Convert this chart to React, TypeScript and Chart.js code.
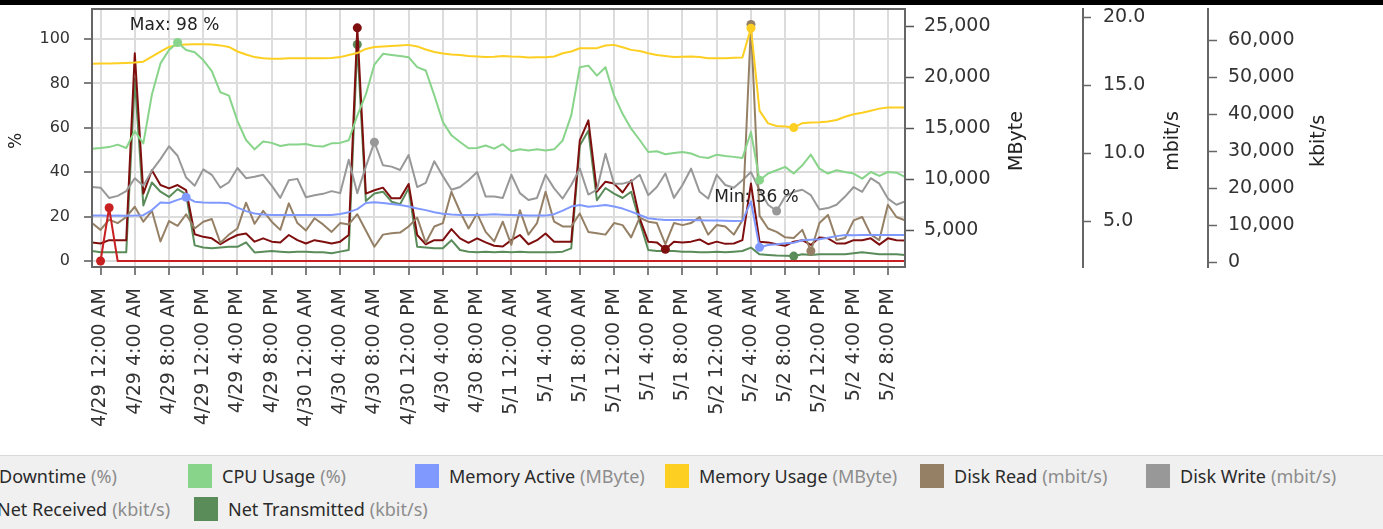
import { useEffect, useRef } from "react";
import { Chart, registerables } from "chart.js";

Chart.register(...registerables);

// x axis: hours relative to 4/29 12:00 AM, one value per hour
const firstHour = -1;
const tickLabels = [
  "4/29 12:00 AM", "4/29 4:00 AM", "4/29 8:00 AM", "4/29 12:00 PM", "4/29 4:00 PM", "4/29 8:00 PM",
  "4/30 12:00 AM", "4/30 4:00 AM", "4/30 8:00 AM", "4/30 12:00 PM", "4/30 4:00 PM", "4/30 8:00 PM",
  "5/1 12:00 AM", "5/1 4:00 AM", "5/1 8:00 AM", "5/1 12:00 PM", "5/1 4:00 PM", "5/1 8:00 PM",
  "5/2 12:00 AM", "5/2 4:00 AM", "5/2 8:00 AM", "5/2 12:00 PM", "5/2 4:00 PM", "5/2 8:00 PM",
];
const tickHours = [0, 4, 8, 12, 16, 20, 24, 28, 32, 36, 40, 44, 48, 52, 56, 60, 64, 68, 72, 76, 80, 84, 88, 92];

const percentTicks = [0, 20, 40, 60, 80, 100];
const mbyteTicks = [5000, 10000, 15000, 20000, 25000];
const mbitTicks = [5, 10, 15, 20];
const kbitTicks = [0, 10000, 20000, 30000, 40000, 50000, 60000];

// Series values (h = -1 .. 94)
const downtime = [null, 0, 24, 0, 0, 0, 0, 0, 0, 0, 0, 0, 0, 0, 0, 0, 0, 0, 0, 0, 0, 0, 0, 0, 0, 0, 0, 0, 0, 0, 0, 0,
  0, 0, 0, 0, 0, 0, 0, 0, 0, 0, 0, 0, 0, 0, 0, 0, 0, 0, 0, 0, 0, 0, 0, 0, 0, 0, 0, 0, 0, 0, 0, 0,
  0, 0, 0, 0, 0, 0, 0, 0, 0, 0, 0, 0, 0, 0, 0, 0, 0, 0, 0, 0, 0, 0, 0, 0, 0, 0, 0, 0, 0, 0, 0, 0];

const cpuUsage = [50.6, 50.9, 51.3, 52.4, 50.9, 58.5, 53, 75, 89, 95, 98.4, 95, 94, 90.5, 85.5, 76,
  74.5, 63, 54.5, 50.3, 53.8, 53.2, 51.8, 52.5, 52.5, 52.7, 51.8, 51.6, 53, 53.2, 54.4, 65.5,
  75, 88.5, 93.3, 92.8, 92.3, 91.8, 87.3, 85.8, 74.6, 62.6, 56.6, 53.6, 50.8, 50.9, 52, 50.6,
  52.6, 49.4, 50.3, 49.8, 50.3, 49.8, 50.3, 54.3, 65.6, 87.3, 88, 83.5, 87.3, 74.6, 66.3, 59.6,
  54.5, 49.1, 49.4, 48.1, 48.6, 49.1, 48.4, 46.9, 46.4, 47.9, 47.3, 46.9, 46.4, 58.1, 36.4, 39.4,
  40.9, 42.4, 39.4, 43.1, 47.9, 41.6, 39.4, 40.9, 40.1, 39.4, 37.1, 40.1, 38.3, 40.1, 39.8, 37.9];

const memoryActive = [6410, 6420, 6400, 6410, 6400, 6410, 6450, 6950, 7700, 7650, 7950, 8210, 7780, 7700, 7680, 7670,
  7620, 7200, 6850, 6620, 6520, 6480, 6470, 6470, 6470, 6460, 6470, 6470, 6480, 6560, 6750, 7050,
  7650, 7720, 7650, 7550, 7460, 7300, 7100, 6950, 6750, 6600, 6520, 6470, 6470, 6470, 6500, 6540,
  6500, 6470, 6450, 6420, 6410, 6410, 6550, 6900, 7300, 7460, 7290, 7350, 7460, 7300, 7100, 6800,
  6470, 6150, 6050, 5980, 5980, 5980, 5970, 5950, 5930, 5920, 5900, 5890, 5900, 7800, 3300, 3530,
  3600, 3700, 3750, 4000, 4050, 4100, 4250, 4400, 4500, 4480, 4500, 4520, 4500, 4520, 4500, 4500];

const memoryUsage = [21300, 21320, 21330, 21350, 21380, 21420, 21500, 21990, 22480, 22950, 23130, 23190, 23200, 23200, 23190, 23100,
  22950, 22500, 22200, 21950, 21850, 21780, 21800, 21840, 21840, 21840, 21830, 21840, 21870, 21950, 22150, 22350,
  22750, 22950, 23000, 23050, 23100, 23150, 23000, 22700, 22450, 22300, 22200, 22150, 22050, 22000, 21950, 21980,
  22050, 22000, 21980, 21920, 21930, 21940, 22010, 22330, 22500, 22820, 22820, 22830, 23090, 23150, 22920, 22660,
  22550, 22330, 22150, 22050, 21950, 21980, 22000, 21950, 21850, 21840, 21840, 21880, 21910, 24790, 16700, 15450,
  15200, 15150, 15040, 15470, 15550, 15570, 15630, 15790, 16100, 16350, 16500, 16700, 16900, 17000, 17000, 17020];

const diskRead = [4.85, 4.35, 5.1, 4.85, 5.3, 6.05, 4.95, 5.75, 3.5, 5.0, 4.65, 5.5, 4.45, 4.95, 5.15, 3.4,
  4.0, 4.45, 6.35, 4.8, 5.75, 4.95, 4.35, 6.3, 4.85, 4.3, 5.2, 4.75, 4.2, 4.85, 4.75, 5.5,
  4.3, 3.11, 4.0, 4.1, 4.15, 4.6, 5.25, 3.4, 4.6, 4.85, 7.15, 5.7, 4.45, 5.55, 4.2, 3.5,
  4.95, 3.25, 5.8, 4.0, 4.85, 7.15, 4.95, 4.6, 4.6, 5.55, 4.2, 4.1, 4.0, 4.85, 4.7, 3.8,
  5.25, 4.95, 4.85, 3.3, 4.85, 4.7, 4.85, 5.3, 4.0, 4.7, 4.6, 4.0, 5.05, 19.45, 5.4, 4.45,
  4.2, 3.8, 3.75, 4.35, 2.8, 4.85, 5.45, 3.6, 3.75, 5.05, 5.3, 4.0, 3.6, 6.2, 5.3, 5.05];

const diskWrite = [7.5, 7.45, 6.7, 6.85, 7.2, 8.15, 7.6, 8.7, 9.55, 10.5, 9.8, 8.2, 7.6, 8.8, 8.4, 7.45,
  7.85, 8.9, 8.15, 8.25, 8.4, 7.6, 6.7, 8.0, 8.1, 6.75, 6.9, 7.0, 7.2, 7.05, 9.5, 7.05,
  9.0, 10.8, 9.1, 9.0, 8.75, 9.85, 7.5, 7.8, 9.4, 8.3, 7.3, 7.5, 8.0, 8.6, 6.8, 6.8,
  6.7, 8.4, 7.05, 6.55, 6.7, 8.4, 7.4, 6.65, 7.65, 8.85, 6.95, 7.3, 9.95, 7.75, 7.75, 7.9,
  8.4, 6.9, 7.5, 8.5, 6.7, 7.65, 8.85, 7.15, 6.65, 8.4, 7.65, 7.45, 8.0, 8.6, 7.3, 6.2,
  5.74, 6.8, 7.15, 7.3, 6.9, 5.85, 5.95, 6.2, 6.8, 7.5, 7.15, 8.15, 7.75, 6.65, 6.2, 6.45];

const netReceived = [5300, 5000, 5900, 5900, 5900, 56400, 18500, 24800, 20800, 19900, 20800, 19400, 7500, 6800, 6400, 4800,
  6200, 7300, 7700, 5500, 6400, 5500, 5300, 7300, 5900, 5000, 5900, 5500, 5000, 5500, 7300, 63300,
  18500, 19400, 20100, 17200, 17200, 21100, 7300, 4800, 5900, 5900, 8900, 6400, 5200, 6400, 5300, 4400,
  4200, 5900, 7300, 4800, 5900, 7700, 5500, 5500, 5500, 32900, 38300, 19000, 21700, 21200, 18800, 22100,
  11800, 5500, 5300, 3450, 5500, 5300, 5500, 6100, 4800, 5500, 4900, 5000, 5900, 21200, 5500, 5300,
  4800, 4400, 5500, 5900, 4600, 6600, 6400, 5000, 5000, 5900, 5900, 6400, 4700, 6400, 5900, 5800];

const netTransmitted = [2970, 2610, 2610, 2610, 2610, 49500, 15300, 21500, 19000, 17600, 19700, 18300, 4500, 3900, 3700, 3900,
  4100, 4100, 5300, 2600, 2800, 2970, 2800, 2610, 2800, 2800, 2610, 2610, 2340, 2800, 3240, 58800,
  16500, 18500, 19000, 16300, 15600, 19900, 4100, 3900, 3700, 3700, 5900, 3240, 2800, 2610, 2800, 2610,
  2800, 2610, 2800, 2610, 2610, 2610, 2610, 2800, 3700, 31500, 35500, 16700, 20000, 18500, 17300, 19000,
  10900, 3240, 2970, 2970, 2970, 2800, 2800, 2610, 2610, 2800, 2610, 2800, 2970, 3900, 2070, 1900,
  1750, 1720, 1600, 2070, 1900, 2070, 2070, 2070, 2070, 2340, 2610, 2340, 2070, 2070, 2070, 1900];

const seriesNames = ["Downtime", "CPU Usage", "Memory Active", "Memory Usage", "Disk Read", "Disk Write", "Net Received", "Net Transmitted"];
const seriesUnits = ["%", "%", "MByte", "MByte", "mbit/s", "mbit/s", "kbit/s", "kbit/s"];
const seriesValues: (number | null)[][] = [downtime, cpuUsage, memoryActive, memoryUsage, diskRead, diskWrite, netReceived, netTransmitted];

// styles
const seriesColors = ["#c82020", "#88d48a", "#8099ff", "#fdcf22", "#958066", "#989898", "#7f0f0f", "#5a8c5a"];
const seriesAxes = ["y", "y", "y1", "y1", "y2", "y2", "y3", "y3"];
const legendSlots = [
  { row: 0, left: -35 }, { row: 0, left: 188 }, { row: 0, left: 415 }, { row: 0, left: 665 },
  { row: 0, left: 920 }, { row: 0, left: 1146 }, { row: 1, left: -37 }, { row: 1, left: 194 },
];
const FONT = "DejaVu Sans";

function extremeIndex(values: (number | null)[], pickMax: boolean): number {
  let best = -1;
  values.forEach((v, i) => {
    if (v == null) return;
    const b = best < 0 ? null : (values[best] as number);
    if (b == null || (pickMax ? v > b : v < b)) best = i;
  });
  return best;
}

const setTicks = (vals: number[]) => (s: any) => {
  s.ticks = vals.map((v) => ({ value: v }));
};
const fitWidth = (w: number) => (s: any) => {
  s.width = w;
  s.paddingTop = 0;
  s.paddingBottom = 0;
};

const decorPlugin = {
  id: "decor",
  afterDraw(chart: any) {
    const { ctx, chartArea } = chart;
    const { left, top, right, bottom } = chartArea;
    ctx.save();
    // plot frame
    ctx.strokeStyle = "#666";
    ctx.lineWidth = 2;
    ctx.strokeRect(left, top, right - left, bottom - top);

    // min / max labels for CPU usage
    const cpuIdx = 1;
    const meta = chart.getDatasetMeta(cpuIdx);
    const vals = seriesValues[cpuIdx] as number[];
    const iMax = extremeIndex(vals, true);
    const iMin = extremeIndex(vals, false);
    ctx.fillStyle = "#222";
    ctx.font = `17px "${FONT}"`;
    ctx.textAlign = "center";
    ctx.textBaseline = "middle";
    const pMax = meta.data[iMax];
    const pMin = meta.data[iMin];
    if (pMax) ctx.fillText(`Max: ${Math.round(vals[iMax])} %`, pMax.x - 3, pMax.y - 17);
    if (pMin) ctx.fillText(`Min: ${Math.round(vals[iMin])} %`, pMin.x - 3, pMin.y + 17);

    // axis titles, reading bottom to top
    const midY = (top + bottom) / 2 + 3;
    const titles: [string, number, number][] = [
      ["%", chart.scales.y.left + 17, 17],
      ["MByte", chart.scales.y1.left + 112, 19],
      ["mbit/s", chart.scales.y2.left + 90, 19],
      ["kbit/s", chart.scales.y3.left + 111, 19],
    ];
    ctx.fillStyle = "#222";
    for (const [text, x, size] of titles) {
      ctx.save();
      ctx.translate(x, midY);
      ctx.rotate(-Math.PI / 2);
      ctx.font = `${size}px "${FONT}"`;
      ctx.textAlign = "center";
      ctx.textBaseline = "middle";
      ctx.fillText(text, 0, 0);
      ctx.restore();
    }
    ctx.restore();
  },
};

export default function App() {
  const canvasRef = useRef<HTMLCanvasElement | null>(null);

  useEffect(() => {
    document.body.style.margin = "0";
    const canvas = canvasRef.current;
    if (!canvas) return;

    const datasets = seriesValues.map((vals, k) => {
      const iMax = extremeIndex(vals, true);
      const iMin = extremeIndex(vals, false);
      return {
        label: seriesNames[k],
        data: vals.map((v, i) => ({ x: firstHour + i, y: v })),
        yAxisID: seriesAxes[k],
        borderColor: seriesColors[k],
        backgroundColor: seriesColors[k],
        borderWidth: 2,
        tension: 0,
        borderJoinStyle: "round" as const,
        pointRadius: (c: any) => (c.dataIndex === iMax || c.dataIndex === iMin ? 4.5 : 0),
        pointBackgroundColor: seriesColors[k],
        pointBorderWidth: 0,
        fill: false,
      };
    });

    const rightTickFont = { family: FONT, size: 19 };
    const chart = new Chart(canvas, {
      type: "line",
      data: { datasets },
      plugins: [decorPlugin],
      options: {
        animation: false,
        responsive: false,
        devicePixelRatio: 1,
        events: [],
        layout: { padding: { top: 9, left: 0, right: 0, bottom: 0 } },
        plugins: { legend: { display: false }, tooltip: { enabled: false } },
        scales: {
          x: {
            type: "linear",
            min: firstHour,
            max: firstHour + cpuUsage.length - 1,
            afterBuildTicks: setTicks(tickHours),
            afterFit: (s: any) => {
              s.height = 188;
              s.paddingLeft = 0;
              s.paddingRight = 0;
            },
            ticks: {
              autoSkip: false,
              minRotation: 90,
              maxRotation: 90,
              padding: 13,
              color: "#333",
              font: { family: FONT, size: 19 },
              callback: (_v: any, i: number) => tickLabels[i],
            },
            grid: { color: "#dcdcdc", lineWidth: 2, tickColor: "#555", tickLength: 8, tickWidth: 1.5 },
            border: { display: false },
          },
          y: {
            type: "linear",
            position: "left",
            min: -2.7,
            max: 113.5,
            afterBuildTicks: setTicks(percentTicks),
            afterFit: fitWidth(92),
            ticks: { padding: 14, color: "#333", font: { family: FONT, size: 16 } },
            grid: { color: "#dcdcdc", lineWidth: 2, tickColor: "#555", tickLength: 8, tickWidth: 1.5 },
            border: { display: false },
          },
          y1: {
            type: "linear",
            position: "right",
            min: 1373,
            max: 26667,
            afterBuildTicks: setTicks(mbyteTicks),
            afterFit: fitWidth(178),
            ticks: { padding: 10, color: "#333", font: rightTickFont, callback: (v: any) => Number(v).toLocaleString("en-US") },
            grid: { drawOnChartArea: false, tickColor: "#555", tickLength: 9, tickWidth: 1.5 },
            border: { display: false },
          },
          y2: {
            type: "linear",
            position: "right",
            min: 1.62,
            max: 20.59,
            afterBuildTicks: setTicks(mbitTicks),
            afterFit: fitWidth(125),
            ticks: { padding: 12, color: "#333", font: rightTickFont, callback: (v: any) => Number(v).toFixed(1) },
            grid: { drawOnChartArea: false, tickColor: "#666", tickLength: 8, tickWidth: 1.5 },
            border: { display: true, color: "#666", width: 2 },
          },
          y3: {
            type: "linear",
            position: "right",
            min: -1351,
            max: 68386,
            afterBuildTicks: setTicks(kbitTicks),
            afterFit: fitWidth(175),
            ticks: { padding: 11, color: "#333", font: rightTickFont, callback: (v: any) => Number(v).toLocaleString("en-US") },
            grid: { drawOnChartArea: false, tickColor: "#666", tickLength: 9, tickWidth: 1.5 },
            border: { display: true, color: "#666", width: 2 },
          },
        },
      } as any,
    });
    return () => chart.destroy();
  }, []);

  return (
    <div style={{ position: "relative", width: 1383, height: 529, overflow: "hidden", background: "#fff" }}>
      <div style={{ position: "absolute", left: 0, top: 0, width: 1383, height: 5, background: "#000" }} />
      <canvas ref={canvasRef} width={1383} height={455} style={{ position: "absolute", left: 0, top: 0, width: 1383, height: 455 }} />
      <div
        style={{
          position: "absolute",
          left: 0,
          top: 455,
          width: 1383,
          height: 74,
          boxSizing: "border-box",
          background: "#f0f0f0",
          borderTop: "1px solid #d9d9d9",
          fontFamily: '"Noto Sans", sans-serif',
          fontSize: 18,
        }}
      >
        {seriesNames.map((name, k) => {
          const slot = legendSlots[k];
          const top = 8 + slot.row * 33;
          return (
            <div key={name} style={{ position: "absolute", left: slot.left, top, height: 24, display: "flex", alignItems: "center", whiteSpace: "nowrap" }}>
              <span style={{ display: "inline-block", width: 24, height: 24, background: seriesColors[k], marginRight: 10 }} />
              <span style={{ color: "#2a2a2a", lineHeight: "24px" }}>{name}</span>
              <span style={{ color: "#8c8c8c", lineHeight: "24px", marginLeft: 5 }}>({seriesUnits[k]})</span>
            </div>
          );
        })}
      </div>
    </div>
  );
}
